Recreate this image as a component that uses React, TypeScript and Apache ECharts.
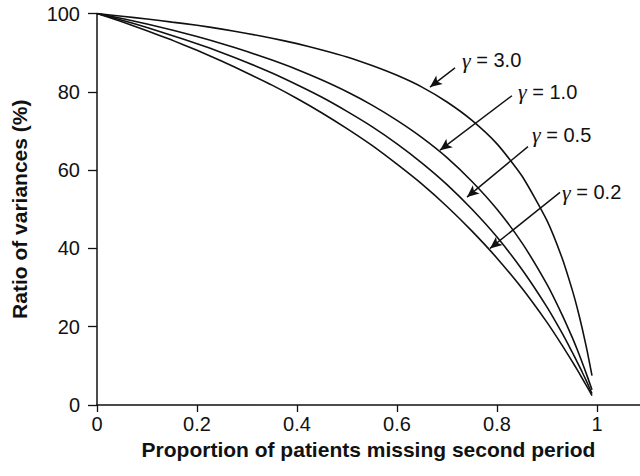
import React, { useEffect, useRef } from "react";
import * as echarts from "echarts";

// Proportion of patients missing the second period
const proportion = [
  0, 0.05, 0.1, 0.15, 0.2, 0.25, 0.3, 0.35, 0.4, 0.45, 0.5, 0.55, 0.6, 0.65,
  0.7, 0.75, 0.8, 0.85, 0.9, 0.93, 0.95, 0.96, 0.97, 0.98, 0.99,
];

// Ratio of variances (%) for each gamma
const gamma30 = [
  100, 99.3, 98.6, 97.8, 97.0, 96.0, 94.9, 93.7, 92.3, 90.7, 88.9, 86.7, 84.2,
  81.2, 77.4, 72.7, 66.7, 58.5, 47.1, 37.6, 29.6, 25.0, 19.8, 14.0, 7.5,
];
const gamma10 = [
  100, 98.7, 97.3, 95.8, 94.1, 92.3, 90.3, 88.1, 85.7, 83.0, 80.0, 76.6, 72.7,
  68.3, 63.2, 57.1, 50.0, 41.4, 30.8, 23.1, 17.4, 14.3, 11.0, 7.5, 3.9,
];
const gamma05 = [
  100, 98.3, 96.4, 94.4, 92.3, 90.0, 87.5, 84.8, 81.8, 78.6, 75.0, 71.1, 66.7,
  61.8, 56.3, 50.0, 42.9, 34.6, 25.0, 18.4, 13.6, 11.1, 8.5, 5.8, 2.9,
];
const gamma02 = [
  100, 97.9, 95.6, 93.2, 90.6, 87.8, 84.8, 81.7, 78.3, 74.6, 70.6, 66.3, 61.5,
  56.4, 50.7, 44.4, 37.5, 29.8, 21.1, 15.3, 11.2, 9.1, 6.9, 4.7, 2.4,
];

const xTicks = [0, 0.2, 0.4, 0.6, 0.8, 1];

// Curve labels: text anchor, arrow tail and arrow tip, in data units
const gammaNames = ["3.0", "1.0", "0.5", "0.2"];
const labelAnchors = [
  [0.73, 88.0],
  [0.842, 80.0],
  [0.87, 69.0],
  [0.93, 54.3],
];
const arrowTails = [
  [0.716, 86.1],
  [0.83, 79.0],
  [0.862, 66.0],
  [0.926, 54.3],
];
const arrowTips = [
  [0.666, 81.2],
  [0.686, 65.1],
  [0.74, 53.1],
  [0.786, 40.0],
];

const seriesValues = [gamma30, gamma10, gamma05, gamma02];

const FONT = "'Liberation Sans', Arial, Helvetica, sans-serif";

export default function App() {
  const ref = useRef<HTMLDivElement>(null);

  useEffect(() => {
    if (!ref.current) return;
    const chart = echarts.init(ref.current, null, { renderer: "svg" });

    const series = seriesValues.map((vals, i) => ({
      type: "line",
      name: "γ = " + gammaNames[i],
      data: proportion.map((p, j) => [p, vals[j]]),
      showSymbol: false,
      symbol: "none",
      smooth: 0.2,
      lineStyle: { color: "#111", width: 1.6 },
      silent: true,
      z: 2,
      markLine: {
        silent: true,
        symbol: ["none", "arrow"],
        symbolSize: [8, 12],
        label: { show: false },
        lineStyle: { type: "solid", color: "#111", width: 1.4 },
        emphasis: { disabled: true },
        data: [[{ coord: arrowTails[i] }, { coord: arrowTips[i] }]],
      },
      markPoint: {
        silent: true,
        symbol: "circle",
        symbolSize: 0,
        data: [{ coord: labelAnchors[i] }],
        label: {
          show: true,
          position: "right",
          distance: 0,
          formatter: "{g|γ}{t| = " + gammaNames[i] + "}",
          rich: {
            g: {
              fontFamily: "'Liberation Serif', 'DejaVu Serif', serif",
              fontStyle: "italic",
              fontSize: 22,
              color: "#111",
            },
            t: { fontFamily: FONT, fontSize: 20, color: "#111" },
          },
        },
      },
    }));

    chart.setOption({
      animation: false,
      backgroundColor: "#fff",
      grid: { left: 97, top: 13.5, right: 0, bottom: 71 },
      xAxis: {
        type: "value",
        min: 0,
        max: 1.086,
        name: "Proportion of patients missing second period",
        nameLocation: "middle",
        nameGap: 33,
        nameTextStyle: {
          fontFamily: FONT,
          fontWeight: "bold",
          fontSize: 21,
          color: "#111",
        },
        axisLine: { show: true, lineStyle: { color: "#111", width: 1.5 } },
        axisTick: {
          show: true,
          inside: false,
          length: 7,
          lineStyle: { color: "#111", width: 1.3 },
          customValues: xTicks,
        },
        axisLabel: {
          fontFamily: FONT,
          fontSize: 20,
          color: "#111",
          margin: 9,
          customValues: xTicks,
          formatter: (v: number) => String(v),
        },
        splitLine: { show: false },
      },
      yAxis: {
        type: "value",
        min: 0,
        max: 100,
        interval: 20,
        name: "Ratio of variances (%)",
        nameLocation: "middle",
        nameGap: 67,
        nameTextStyle: {
          fontFamily: FONT,
          fontWeight: "bold",
          fontSize: 21,
          color: "#111",
        },
        axisLine: { show: true, lineStyle: { color: "#111", width: 1.5 } },
        axisTick: {
          show: true,
          inside: false,
          length: 9,
          lineStyle: { color: "#111", width: 1.3 },
        },
        axisLabel: {
          fontFamily: FONT,
          fontSize: 20,
          color: "#111",
          margin: 17,
        },
        splitLine: { show: false },
      },
      series,
    });

    return () => chart.dispose();
  }, []);

  return (
    <div
      ref={ref}
      style={{ position: "absolute", left: 0, top: 0, width: 640, height: 476 }}
    />
  );
}
